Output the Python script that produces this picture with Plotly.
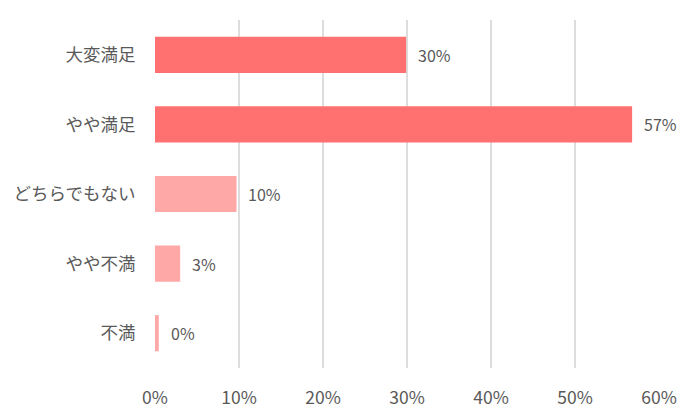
import plotly.graph_objects as go

categories = ["大変満足", "やや満足", "どちらでもない", "やや不満", "不満"]
values = [29.9, 56.8, 9.7, 3.0, 0.45]
colors = ["#FF7171", "#FF7171", "#FFA8A8", "#FFA8A8", "#FFA8A8"]
x_ticks = [0, 10, 20, 30, 40, 50, 60]
x_tick_labels = [f"{t}%" for t in x_ticks]
labels = [f"{round(v)}%" for v in values]

font_family = "Noto Sans CJK JP, Noto Sans, sans-serif"
text_color = "#595959"

fig = go.Figure(
    go.Bar(
        x=values,
        y=categories,
        orientation="h",
        marker=dict(color=colors, line=dict(width=0)),
        width=0.52,
        hoverinfo="skip",
    )
)

for v, c, t in zip(values, categories, labels):
    fig.add_annotation(
        x=v, y=c, text=t, showarrow=False, xanchor="left", xshift=10,
        font=dict(family=font_family, size=16, color=text_color),
    )

fig.update_layout(
    width=700,
    height=420,
    margin=dict(l=147, r=49, t=12, b=60),
    plot_bgcolor="white",
    paper_bgcolor="white",
    showlegend=False,
    font=dict(family=font_family, color=text_color),
    xaxis=dict(
        range=[0, 60],
        tickvals=x_ticks,
        ticktext=x_tick_labels,
        showgrid=True,
        gridcolor="#DDDDDD",
        gridwidth=1.5,
        zeroline=False,
        showline=False,
        ticks="outside",
        ticklen=14,
        tickcolor="rgba(0,0,0,0)",
        tickfont=dict(size=17.5, color=text_color, family=font_family),
        automargin=False,
        fixedrange=True,
    ),
    yaxis=dict(
        categoryorder="array",
        categoryarray=categories[::-1],
        autorange=False,
        range=[-0.5, 4.5],
        showgrid=False,
        zeroline=False,
        showline=False,
        ticks="outside",
        ticklen=15,
        tickcolor="rgba(0,0,0,0)",
        tickfont=dict(size=17.5, color=text_color, family=font_family),
        automargin=False,
        fixedrange=True,
    ),
)

fig.write_html("out.html")
